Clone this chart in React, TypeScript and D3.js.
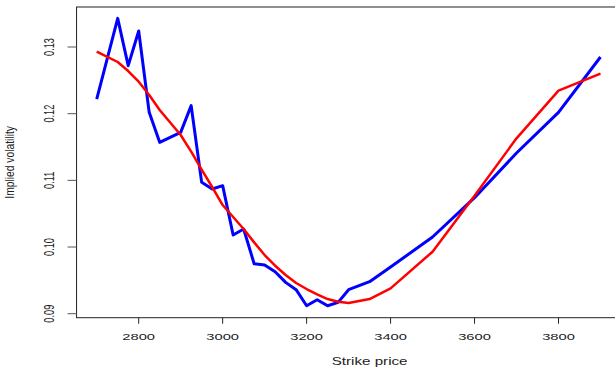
import React, { useEffect, useRef } from "react";
import * as d3 from "d3";

// strike prices
const strikes = [
  2700, 2750, 2775, 2800, 2825, 2850, 2900, 2925, 2950, 2975, 3000, 3025, 3050, 3075, 3100,
  3125, 3150, 3175, 3200, 3225, 3250, 3275, 3300, 3350, 3400, 3500, 3600, 3700, 3800, 3900,
];

// observed implied volatility (blue)
const observedVol = [
  0.1222, 0.1343, 0.1272, 0.1324, 0.1202, 0.1157, 0.1172, 0.1212, 0.1097, 0.1087, 0.1092,
  0.1018, 0.1027, 0.0975, 0.0973, 0.0963, 0.0947, 0.0936, 0.0912, 0.0921, 0.0912, 0.0917,
  0.0936, 0.0948, 0.0970, 0.1015, 0.1074, 0.1141, 0.1202, 0.1285,
];

// fitted implied volatility (red)
const fittedVol = [
  0.1293, 0.12775, 0.1264, 0.1248, 0.1228, 0.12055, 0.1168, 0.1143, 0.1116, 0.1090, 0.1063,
  0.1045, 0.1027, 0.1007, 0.0988, 0.0972, 0.0958, 0.0946, 0.0937, 0.0929, 0.0922, 0.0918,
  0.0916, 0.0922, 0.0938, 0.0993, 0.1077, 0.1163, 0.12345, 0.1260,
];

const xTicks = [2800, 3000, 3200, 3400, 3600, 3800];
const yTicks = [0.09, 0.1, 0.11, 0.12, 0.13];

const App = () => {
  const svgRef = useRef<SVGSVGElement>(null);

  useEffect(() => {
    const width = 615;
    const height = 368;
    const font = "'Liberation Sans', Arial, sans-serif";

    const svg = d3.select(svgRef.current);
    svg.selectAll("*").remove();
    svg.attr("width", width).attr("height", height);

    // scales (plot region is wider than the picture, right edge is cut off)
    const x = d3.scaleLinear().domain([2800, 3800]).range([138.7, 558.5]);
    const y = d3.scaleLinear().domain([0.09, 0.13]).range([313.7, 47]);

    const left = x(2652);
    const right = x(3948);
    const top = y(0.136);
    const bottom = y(0.0894);

    // box
    svg
      .append("rect")
      .attr("x", left)
      .attr("y", top)
      .attr("width", right - left)
      .attr("height", bottom - top)
      .attr("fill", "none")
      .attr("stroke", "#222")
      .attr("stroke-width", 1);

    // x ticks
    const xg = svg.append("g");
    xTicks.forEach((t) => {
      xg.append("line")
        .attr("x1", x(t))
        .attr("x2", x(t))
        .attr("y1", bottom)
        .attr("y2", bottom + 6)
        .attr("stroke", "#222");
      xg.append("text")
        .attr("transform", `translate(${x(t)},${bottom + 22}) scale(1.5,1)`)
        .attr("text-anchor", "middle")
        .style("font-family", font)
        .style("font-size", "9.8px")
        .attr("fill", "#222")
        .text(t);
    });

    // y ticks
    const yg = svg.append("g");
    yTicks.forEach((t) => {
      yg.append("line")
        .attr("x1", left - 9)
        .attr("x2", left)
        .attr("y1", y(t))
        .attr("y2", y(t))
        .attr("stroke", "#555");
      yg.append("text")
        .attr("transform", `translate(${left - 23},${y(t)}) scale(1.5,1) rotate(-90)`)
        .attr("text-anchor", "middle")
        .style("font-family", font)
        .style("font-size", "9.2px")
        .attr("fill", "#222")
        .text(d3.format(".2f")(t));
    });

    // axis titles
    svg
      .append("text")
      .attr("transform", `translate(${x(3350)},${height - 3}) scale(1.38,1)`)
      .attr("text-anchor", "middle")
      .style("font-family", font)
      .style("font-size", "11px")
      .attr("fill", "#222")
      .text("Strike price");

    svg
      .append("text")
      .attr("transform", `translate(14,${(top + bottom) / 2}) scale(1.2,1) rotate(-90)`)
      .attr("text-anchor", "middle")
      .style("font-family", font)
      .style("font-size", "10.3px")
      .attr("fill", "#222")
      .text("Implied volatility");

    // lines
    const line = d3
      .line<number>()
      .x((d, i) => x(strikes[i]))
      .y((d) => y(d));

    svg
      .append("path")
      .datum(observedVol)
      .attr("d", line)
      .attr("fill", "none")
      .attr("stroke", "#0000ff")
      .attr("stroke-width", 3)
      .attr("stroke-linejoin", "round");

    svg
      .append("path")
      .datum(fittedVol)
      .attr("d", line)
      .attr("fill", "none")
      .attr("stroke", "#ff0000")
      .attr("stroke-width", 2.5)
      .attr("stroke-linejoin", "round");
  }, []);

  return (
    <div style={{ position: "absolute", left: 0, top: 0, background: "#fff" }}>
      <svg ref={svgRef} style={{ display: "block" }} />
    </div>
  );
};

export default App;
